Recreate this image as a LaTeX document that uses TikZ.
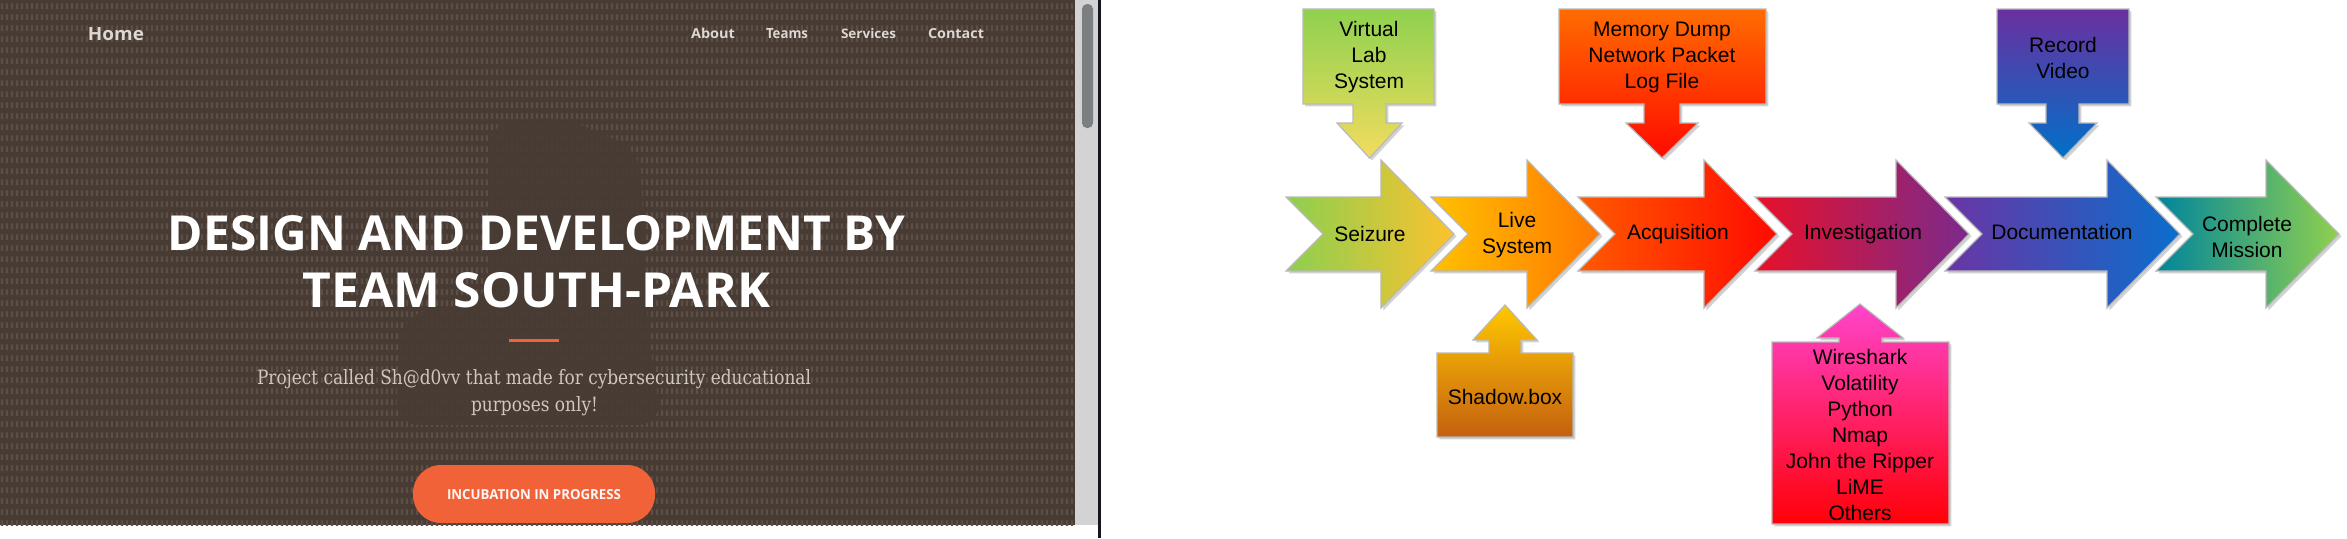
\documentclass[tikz,border=0pt]{standalone}
\usepackage{graphicx}
\usepackage{fontspec}
\setmainfont{Liberation Sans}
\newfontfamily\opensans{Open Sans}
\newfontfamily\dvserif{DejaVu Serif}
\usetikzlibrary{shadows,patterns}
\pgfdeclarepatternformonly{digitgrid}{\pgfqpoint{0pt}{0pt}}{\pgfqpoint{2.25pt}{5.5pt}}{\pgfqpoint{2.25pt}{5.5pt}}{\pgfpathrectangle{\pgfqpoint{0.5pt}{1.2pt}}{\pgfqpoint{1.2pt}{3pt}}\pgfusepath{fill}}
\definecolor{bgbrown}{HTML}{483B33}
\definecolor{digitc}{HTML}{5B4F47}
\definecolor{navc}{HTML}{DDD8D3}
\definecolor{subc}{HTML}{CFC8C0}
\definecolor{primary}{HTML}{F26238}
\definecolor{trackc}{HTML}{D3D3D3}
\definecolor{thumbc}{HTML}{7B7F82}
\definecolor{sepc}{HTML}{15151F}
% diagram colours
\definecolor{szL}{HTML}{8CCF50}\definecolor{szR}{HTML}{FCC22E}
\definecolor{lvL}{HTML}{FFC000}\definecolor{lvR}{HTML}{FF7800}
\definecolor{acL}{HTML}{FF5A00}\definecolor{acR}{HTML}{FF0A00}
\definecolor{ivL}{HTML}{E8102A}\definecolor{ivR}{HTML}{7A2A8C}
\definecolor{dcL}{HTML}{6A35A5}\definecolor{dcR}{HTML}{0A6ECC}
\definecolor{cmL}{HTML}{00859C}\definecolor{cmR}{HTML}{8FD04E}
\definecolor{vlT}{HTML}{8FD14F}\definecolor{vlB}{HTML}{F2DC5E}
\definecolor{mdT}{HTML}{FF6C00}\definecolor{mdB}{HTML}{FF0A00}
\definecolor{rvT}{HTML}{6A30A0}\definecolor{rvB}{HTML}{0070C8}
\definecolor{sbT}{HTML}{FFC800}\definecolor{sbM}{HTML}{F0A400}\definecolor{sbB}{HTML}{C46010}
\definecolor{tlT}{HTML}{FF44CC}\definecolor{tlM}{HTML}{FF1A88}\definecolor{tlB}{HTML}{FF0008}
\tikzset{
  shp/.style={draw=gray!55, line width=0.6pt,
    drop shadow={shadow xshift=1.2pt, shadow yshift=-1.2pt, opacity=0.35, fill=gray}},
  lbl/.style={font=\fontsize{10.5}{13}\selectfont, align=center, text=black, inner sep=0pt},
  webtxt/.style={inner sep=0pt, outer sep=0pt},
}
\newcommand\mychev[4]{%
  \path[shp, left color=#3, right color=#4]
    (#1,197) -- (#2,197) -- (#2,160) -- ({#2+73},234) -- (#2,308) -- (#2,271)
    -- (#1,271) -- ({#1+37},234) -- cycle;}
\begin{document}
\begin{tikzpicture}[x=0.5pt,y=-0.5pt]
\useasboundingbox (0,0) rectangle (2347,538);
\fill[white] (0,0) rectangle (2347,538);
% ---------------- left: web page screenshot ----------------
\fill[bgbrown] (0,0) rectangle (1075,525);
\fill[pattern=digitgrid, pattern color=digitc] (0,0) rectangle (1075,525);
% dark hooded figure
\fill[bgbrown, opacity=0.85, rounded corners=12pt] (488,124) -- (560,116) -- (640,150)
   -- (648,330) -- (662,425) -- (395,425) -- (402,315) -- (488,300) -- cycle;
% scrollbar and separator
\fill[trackc] (1075,0) rectangle (1098,525);
\fill[thumbc, rounded corners=2.5pt] (1082,4) rectangle (1093,128);
\fill[sepc] (1098,0) rectangle (1101,538);
% navigation
\node[webtxt, anchor=base west, text=navc] (home) at (88,40)
  {\resizebox{28pt}{6.5pt}{\opensans\bfseries Home}};
\node[webtxt, anchor=base west, text=navc] (about) at (691,38)
  {\resizebox{22pt}{5.2pt}{\opensans\bfseries About}};
\node[webtxt, anchor=base west, text=navc] (teams) at (766,38)
  {\resizebox{21pt}{5pt}{\opensans\bfseries Teams}};
\node[webtxt, anchor=base west, text=navc] (services) at (841,38)
  {\resizebox{27.5pt}{5pt}{\opensans\bfseries Services}};
\node[webtxt, anchor=base west, text=navc] (contact) at (928,38)
  {\resizebox{28pt}{5pt}{\opensans\bfseries Contact}};
% title
\node[webtxt, anchor=base, text=white] (title1) at (536.5,250)
  {\resizebox{368.5pt}{17.5pt}{\opensans\bfseries DESIGN AND DEVELOPMENT BY}};
\node[webtxt, anchor=base, text=white] (title2) at (536.5,307)
  {\resizebox{233.5pt}{17.5pt}{\opensans\bfseries TEAM SOUTH-PARK}};
\fill[primary] (509,339) rectangle (559,342);
% subtitle
\node[webtxt, anchor=base, text=subc] (sub1) at (534,384)
  {\resizebox{277pt}{7.5pt}{\dvserif Project called Sh@d0vv that made for cybersecurity educational}};
\node[webtxt, anchor=base, text=subc] (sub2) at (534.5,411)
  {\resizebox{63.5pt}{7.5pt}{\dvserif purposes only!}};
% button
\fill[primary, rounded corners=14pt] (413,465) rectangle (655,523);
\node[webtxt, anchor=base, text=white!95!primary] (btn) at (534,499)
  {\resizebox{87pt}{5pt}{\opensans\bfseries INCUBATION IN PROGRESS}};
% ---------------- right: process diagram ----------------
\mychev{1286}{1381}{szL}{szR}
\mychev{1431}{1527}{lvL}{lvR}
\mychev{1578}{1704}{acL}{acR}
\mychev{1755}{1896}{ivL}{ivR}
\mychev{1945}{2107}{dcL}{dcR}
\mychev{2156}{2266}{cmL}{cmR}
% top boxes with down arrows
\path[shp, top color=vlT, bottom color=vlB]
  (1303,9) -- (1434,9) -- (1434,104) -- (1386,104) -- (1386,123) -- (1402,123)
  -- (1369.5,158) -- (1337,123) -- (1353,123) -- (1353,104) -- (1303,104) -- cycle;
\path[shp, top color=mdT, bottom color=mdB]
  (1559,9) -- (1766,9) -- (1766,104) -- (1680,104) -- (1680,123) -- (1698,123)
  -- (1662,158) -- (1626,123) -- (1644,123) -- (1644,104) -- (1559,104) -- cycle;
\path[shp, top color=rvT, bottom color=rvB]
  (1997,9) -- (2129,9) -- (2129,104) -- (2079,104) -- (2079,123) -- (2097,123)
  -- (2063,158) -- (2029,123) -- (2046,123) -- (2046,104) -- (1997,104) -- cycle;
% bottom boxes with up arrows
\path[shp, top color=sbT, middle color=sbM, bottom color=sbB]
  (1437,437) -- (1573,437) -- (1573,353) -- (1521,353) -- (1521,340) -- (1537,340)
  -- (1505,305) -- (1473,340) -- (1489,340) -- (1489,353) -- (1437,353) -- cycle;
\path[shp, top color=tlT, middle color=tlM, bottom color=tlB]
  (1772,524) -- (1949,524) -- (1949,342) -- (1882,342) -- (1882,338) -- (1903,338)
  -- (1860,304) -- (1817,338) -- (1839,338) -- (1839,342) -- (1772,342) -- cycle;
% labels
\node[lbl] (seizure) at (1370,234) {Seizure};
\node[lbl] (live) at (1517,235) {Live\\System};
\node[lbl] (acq) at (1678,234) {Acquisition};
\node[lbl] (inv) at (1863,234) {Investigation};
\node[lbl] (doc) at (2062,232) {Documentation};
\node[lbl] (complete) at (2247,237) {Complete\\Mission};
\node[lbl] (virtual) at (1369,57) {Virtual\\Lab\\System};
\node[lbl] (memory) at (1662,57) {Memory Dump\\Network Packet\\Log File};
\node[lbl] (record) at (2063,58) {Record\\Video};
\node[lbl] (shadow) at (1505,397) {Shadow.box};
\node[lbl] (tools) at (1860,435) {Wireshark\\Volatility\\Python\\Nmap\\John the Ripper\\LiME\\Others};
\end{tikzpicture}
\end{document}
